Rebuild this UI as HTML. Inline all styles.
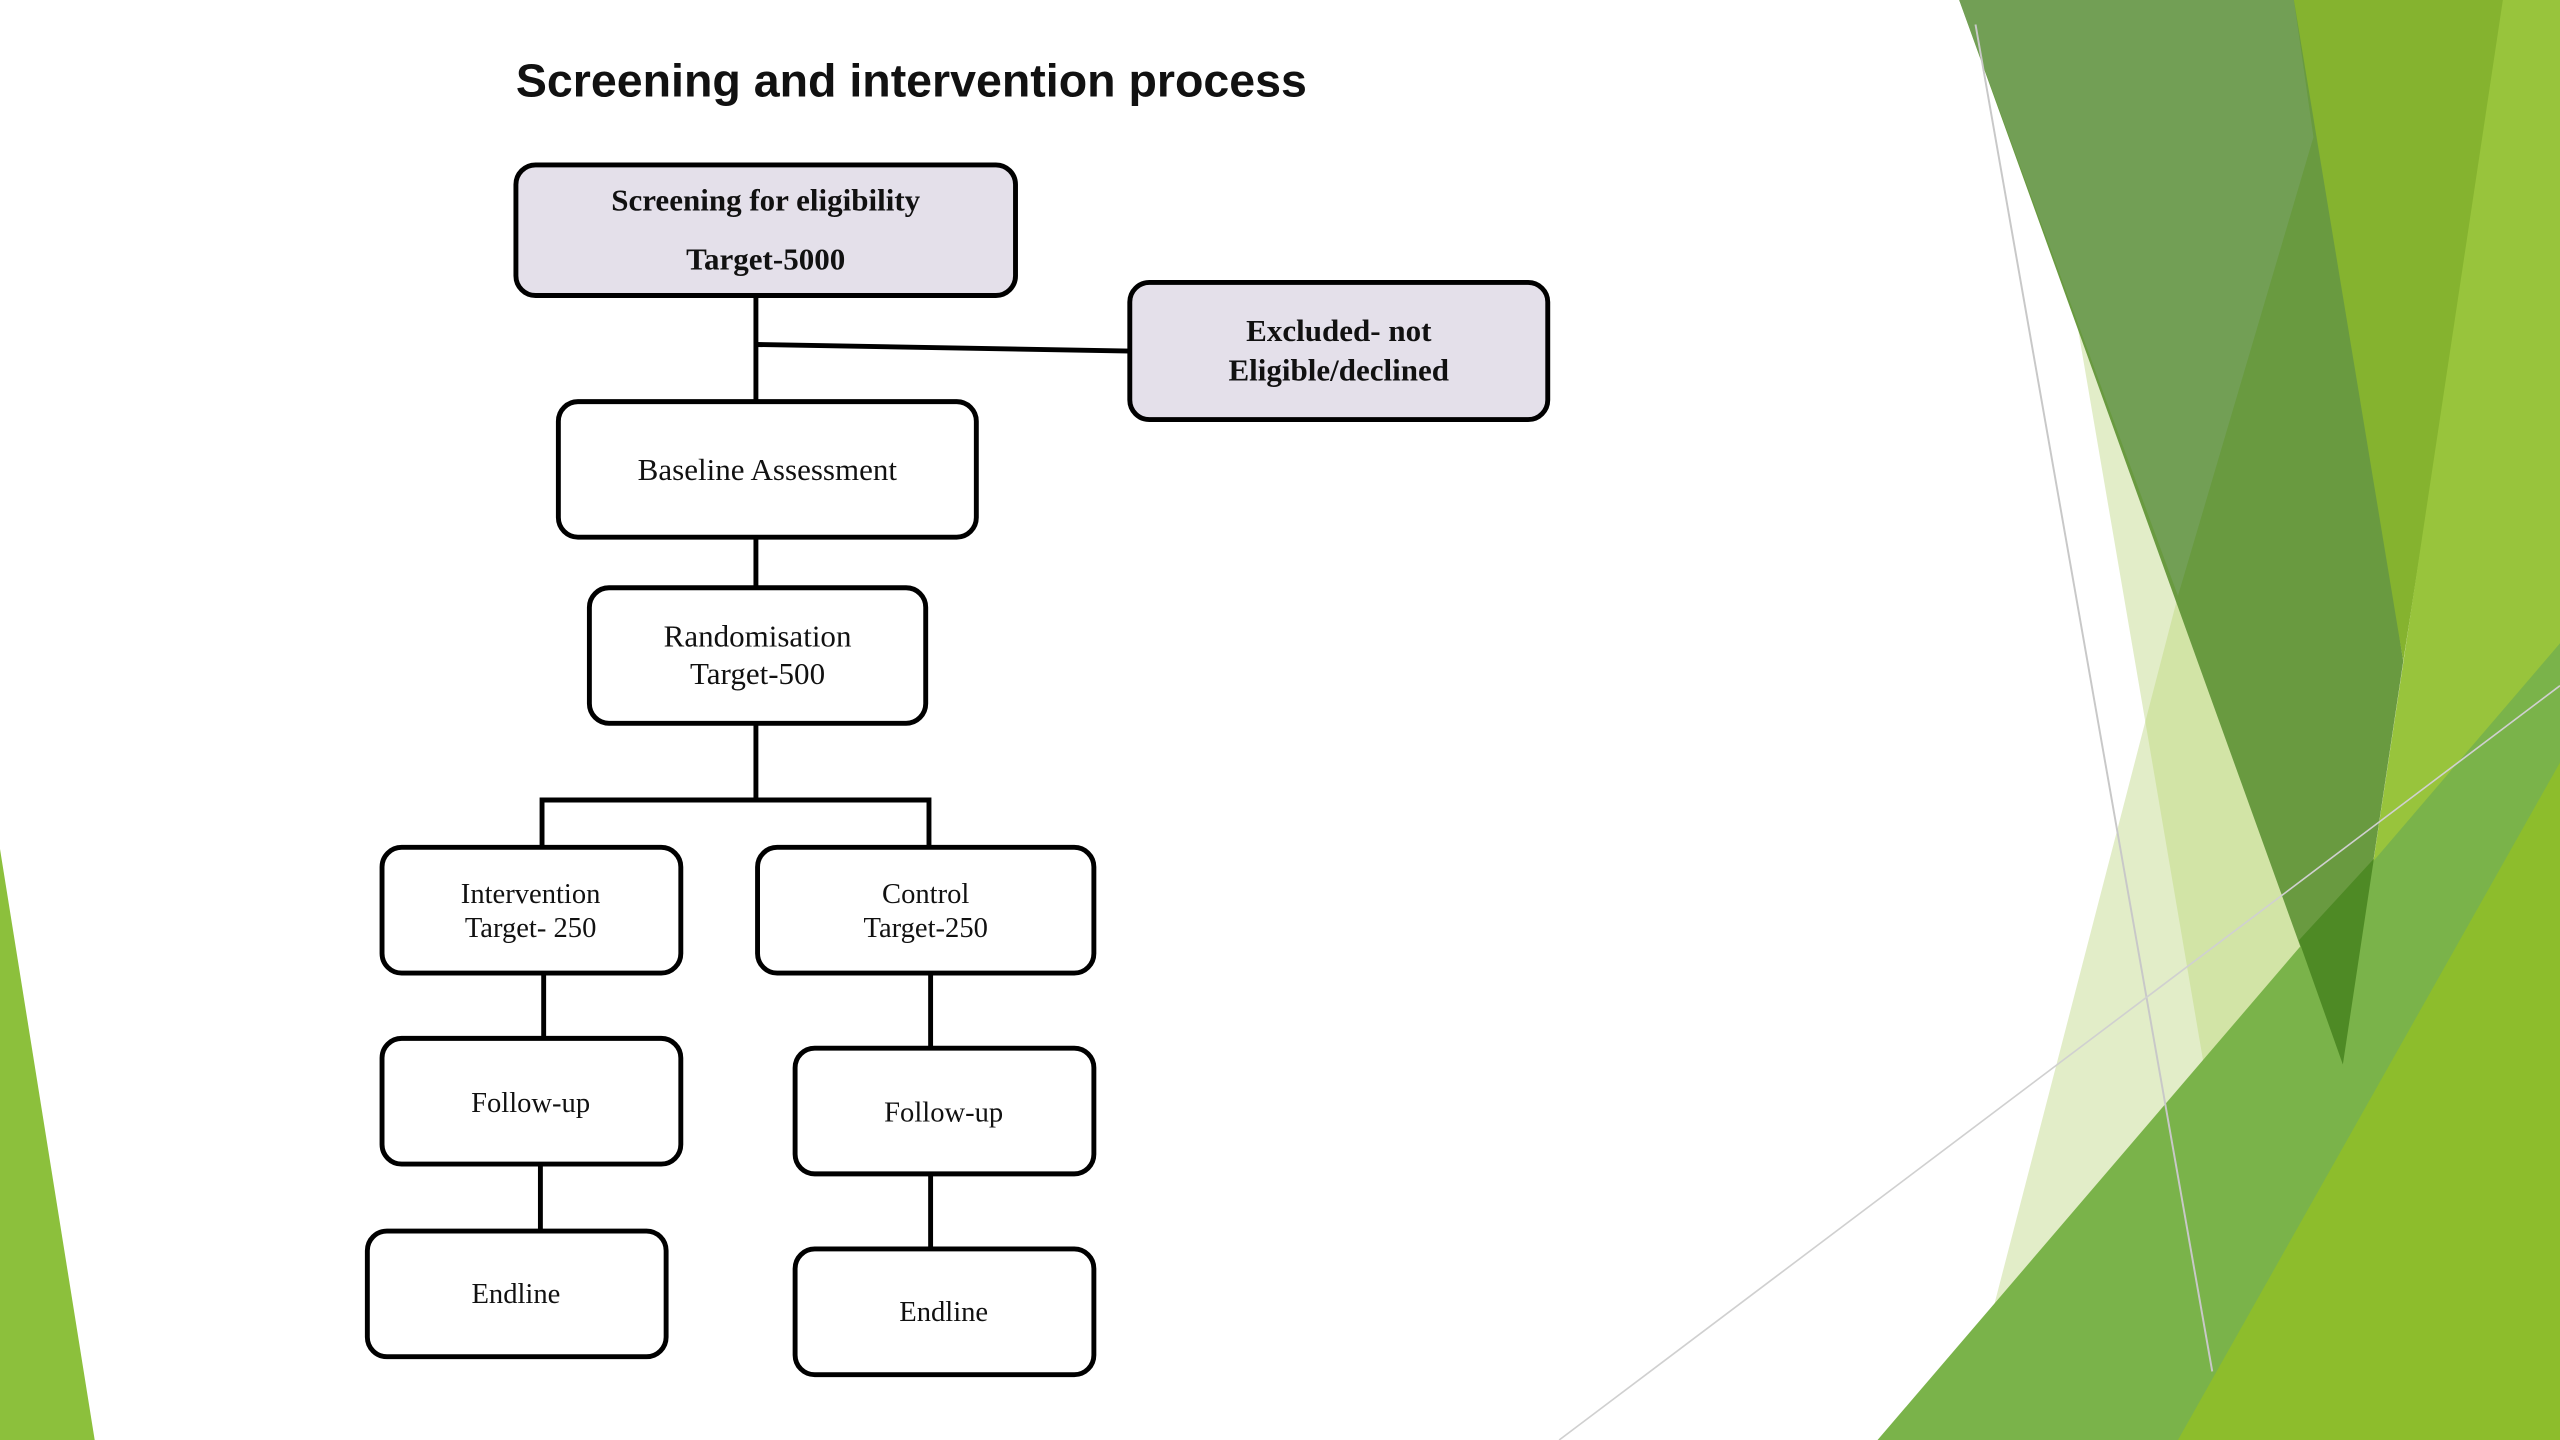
<!DOCTYPE html>
<html><head><meta charset="utf-8"><style>
html,body{margin:0;padding:0;background:#fff;overflow:hidden}
svg{display:block}
</style></head><body>
<svg width="2560" height="1440" viewBox="0 0 1568 882" preserveAspectRatio="none" xmlns="http://www.w3.org/2000/svg">
<rect width="1568" height="882" fill="#fff"/>
<polygon points="0,520 58,882 0,882" fill="#8cc03c"/>
<polygon points="1272,197 1440,660 1300,882 1200,882 1314,442" fill="#e2edc8"/>
<polygon points="1334,365 1440,660 1389,882 1314,442" fill="#d2e4a6"/>
<polygon points="1200,0 1410,0 1472,405 1435,652" fill="#699a40"/>
<polygon points="1200,0 1405,0 1417,84 1334,365" fill="#729f55"/>
<polygon points="1405,0 1535,0 1472,405" fill="#85b32f"/>
<polygon points="1533,0 1568,0 1568,882 1402,882 1435,652" fill="#98c43c"/>
<polygon points="1150,882 1568,394 1568,882" fill="#7ab34a"/>
<polygon points="1408,576 1454,526 1435,652" fill="#4e8a25"/>
<polygon points="1334,882 1568,467 1568,882" fill="#8dbd2c"/>
<line x1="1210" y1="15" x2="1355" y2="840" stroke="#c8c8c8" stroke-width="1.2"/>
<line x1="955" y1="882" x2="1568" y2="420" stroke="#d0d0d0" stroke-width="1"/>

<text x="316" y="59" font-family="Liberation Sans, sans-serif" font-weight="bold" font-size="28.5" fill="#111">Screening and intervention process</text>

<g stroke="#000" stroke-width="3" fill="none">
<line x1="463" y1="181" x2="463" y2="246"/>
<line x1="463" y1="211" x2="692" y2="215"/>
<line x1="463" y1="329" x2="463" y2="360"/>
<line x1="463" y1="443" x2="463" y2="490"/>
<polyline points="332,519 332,490 569,490 569,519"/>
<line x1="333" y1="596" x2="333" y2="636"/>
<line x1="570" y1="596" x2="570" y2="642"/>
<line x1="331" y1="713" x2="331" y2="754"/>
<line x1="570" y1="719" x2="570" y2="765"/>
</g>

<g stroke="#000" stroke-width="3">
<rect x="316" y="101" width="306" height="80" rx="12" fill="#e4e0ea"/>
<rect x="692" y="173" width="256" height="84" rx="12" fill="#e4e0ea"/>
<rect x="342" y="246" width="256" height="83" rx="12" fill="#fff"/>
<rect x="361" y="360" width="206" height="83" rx="12" fill="#fff"/>
<rect x="234" y="519" width="183" height="77" rx="12" fill="#fff"/>
<rect x="464" y="519" width="206" height="77" rx="12" fill="#fff"/>
<rect x="234" y="636" width="183" height="77" rx="12" fill="#fff"/>
<rect x="487" y="642" width="183" height="77" rx="12" fill="#fff"/>
<rect x="225" y="754" width="183" height="77" rx="12" fill="#fff"/>
<rect x="487" y="765" width="183" height="77" rx="12" fill="#fff"/>
</g>

<g font-family="Liberation Serif, serif" fill="#111" text-anchor="middle">
<g font-weight="bold" font-size="19">
<text x="469" y="129">Screening for eligibility</text>
<text x="469" y="165">Target-5000</text>
<text x="820" y="209">Excluded- not</text>
<text x="820" y="233">Eligible/declined</text>
</g>
<g font-size="19">
<text x="470" y="294">Baseline Assessment</text>
<text x="464" y="396">Randomisation</text>
<text x="464" y="419">Target-500</text>
</g>
<g font-size="17.5">
<text x="325" y="553">Intervention</text>
<text x="325" y="574">Target- 250</text>
<text x="567" y="553">Control</text>
<text x="567" y="574">Target-250</text>
<text x="325" y="681">Follow-up</text>
<text x="578" y="687">Follow-up</text>
<text x="316" y="798">Endline</text>
<text x="578" y="809">Endline</text>
</g>
</g>
</svg>
</body></html>
